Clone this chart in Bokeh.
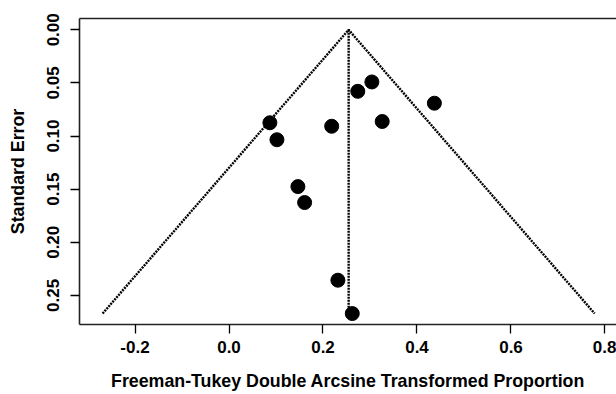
from bokeh.plotting import figure
from bokeh.models import Range1d, FixedTicker, LinearAxis, ColumnDataSource
from bokeh.embed import file_html
from bokeh.resources import INLINE

# ---- data ----
yi = [0.087, 0.102, 0.2185, 0.274, 0.304, 0.326, 0.437, 0.1466, 0.1609, 0.2317, 0.2623]
sei = [0.0875, 0.1035, 0.0908, 0.0579, 0.0491, 0.0863, 0.0691, 0.1476, 0.1626, 0.2357, 0.2671]
pooled = 0.2546
z = 1.96

x_ticks = [-0.2, 0.0, 0.2, 0.4, 0.6, 0.8]
x_tick_labels = ["-0.2", "0.0", "0.2", "0.4", "0.6", "0.8"]
y_ticks = [0.00, 0.05, 0.10, 0.15, 0.20, 0.25]
y_tick_labels = ["0.00", "0.05", "0.10", "0.15", "0.20", "0.25"]

x_title = "Freeman-Tukey Double Arcsine Transformed Proportion"
y_title = "Standard Error"

# funnel derived from pooled estimate and largest standard error
se_max = max(sei)
funnel_x = [pooled - z * se_max, pooled, pooled + z * se_max]
funnel_se = [se_max, 0.0, se_max]
center_x = [pooled, pooled]
center_se = [0.0, se_max]

FONT = "Liberation Sans"

p = figure(width=616, height=394, output_backend="svg", toolbar_location=None,
           x_range=Range1d(-0.3181, 0.8245), y_range=Range1d(0.2774, -0.01064),
           min_border_left=79, min_border_right=0, min_border_top=18, min_border_bottom=70,
           x_axis_type=None, y_axis_type=None)
p.outline_line_color = None
p.grid.visible = False
p.background_fill_color = "white"
p.border_fill_color = "white"

def style_axis(ax, ticks, labels, title, standoff, title_standoff):
    ax.ticker = FixedTicker(ticks=ticks)
    ax.major_label_overrides = {t: l for t, l in zip(ticks, labels)}
    ax.axis_label = title
    ax.axis_label_text_font = FONT
    ax.axis_label_text_font_style = "bold"
    ax.axis_label_text_font_size = "17.8px"
    ax.axis_label_text_color = "black"
    ax.axis_label_standoff = title_standoff
    ax.major_label_text_font = FONT
    ax.major_label_text_font_style = "bold"
    ax.major_label_text_font_size = "17px"
    ax.major_label_text_color = "black"
    ax.major_label_standoff = standoff
    ax.major_tick_in = 0
    ax.major_tick_out = 9
    ax.major_tick_line_color = "black"
    ax.major_tick_line_width = 1.3
    ax.minor_tick_line_color = None
    ax.axis_line_color = "#222222"
    ax.axis_line_width = 1.6

xaxis = LinearAxis()
style_axis(xaxis, x_ticks, x_tick_labels, x_title, 7, 15)
p.add_layout(xaxis, "below")

yaxis = LinearAxis()
style_axis(yaxis, y_ticks, y_tick_labels, y_title, 11, 17)
yaxis.major_label_orientation = "vertical"
p.add_layout(yaxis, "left")

top = LinearAxis(ticker=FixedTicker(ticks=[]))
top.major_label_text_font_size = "0px"
top.major_tick_out = 0
top.major_tick_in = 0
top.minor_tick_line_color = None
top.axis_line_color = "#222222"
top.axis_line_width = 1.6
p.add_layout(top, "above")

p.line(funnel_x, funnel_se, line_color="black", line_width=2.4, line_dash="2 1")
p.line(center_x, center_se, line_color="black", line_width=2.4, line_dash="2 1")

src = ColumnDataSource(dict(x=yi, y=sei))
p.scatter("x", "y", source=src, size=14, fill_color="black", line_color="black")

open("out.html", "w").write(file_html(p, INLINE))
